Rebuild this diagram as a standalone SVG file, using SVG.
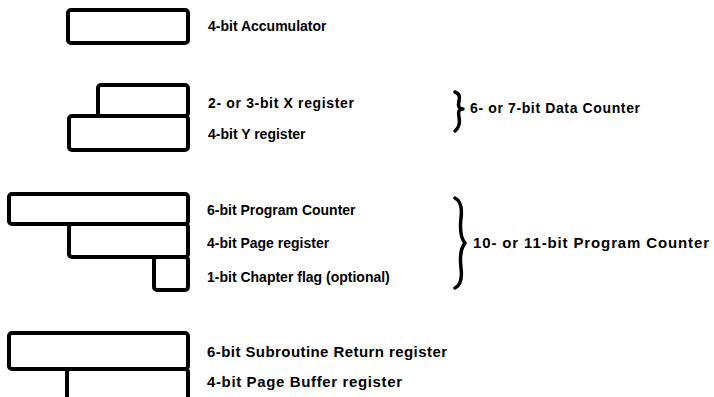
<svg xmlns="http://www.w3.org/2000/svg" width="714" height="397" viewBox="0 0 714 397">
<style>
.reg{fill:#fff;stroke:#000;stroke-width:4;stroke-linejoin:round}
.lbl{font-family:"Liberation Sans",Arial,sans-serif;font-weight:bold;font-size:14px;fill:#000}
.s15{font-size:15px}
.br{fill:none;stroke:#000;stroke-width:3.5;stroke-linecap:round;stroke-linejoin:round}
</style>
<rect width="714" height="397" fill="#fff"/>
<g id="accumulator">
<rect class="reg" x="68" y="10" width="120" height="33" rx="3"/>
<text class="lbl" x="208" y="31">4-bit Accumulator</text>
</g>
<g id="data-counter">
<rect class="reg" x="98" y="85" width="90" height="31" rx="3"/>
<rect class="reg" x="69" y="116" width="119" height="34" rx="3"/>
<text class="lbl" x="208" y="108" textLength="146" lengthAdjust="spacing">2- or 3-bit X register</text>
<text class="lbl" x="208" y="139">4-bit Y register</text>
<path class="br" d="M455,92 Q461,94 459,101 Q457,109 463,109 Q457,109 459,117 Q461,126 455,131"/>
<text class="lbl" x="470" y="113" textLength="170" lengthAdjust="spacing">6- or 7-bit Data Counter</text>
</g>
<g id="program-counter">
<rect class="reg" x="9" y="194" width="179" height="30" rx="3"/>
<rect class="reg" x="69" y="224" width="119" height="33" rx="3"/>
<rect class="reg" x="154" y="257" width="34" height="33" rx="3"/>
<text class="lbl" x="207" y="215">6-bit Program Counter</text>
<text class="lbl" x="207" y="248">4-bit Page register</text>
<text class="lbl" x="207" y="282">1-bit Chapter flag (optional)</text>
<path class="br" d="M455,198 Q463,202 461,218 Q459,236 465,243 Q459,250 461,268 Q463,284 455,288"/>
<text class="lbl s15" x="473" y="248" textLength="236" lengthAdjust="spacing">10- or 11-bit Program Counter</text>
</g>
<g id="subroutine">
<rect class="reg" x="9" y="333" width="179" height="36" rx="3"/>
<rect class="reg" x="67" y="369" width="121" height="40" rx="3"/>
<text class="lbl s15" x="207" y="357" textLength="240" lengthAdjust="spacing">6-bit Subroutine Return register</text>
<text class="lbl s15" x="207" y="387" textLength="195" lengthAdjust="spacing">4-bit Page Buffer register</text>
</g>
</svg>
